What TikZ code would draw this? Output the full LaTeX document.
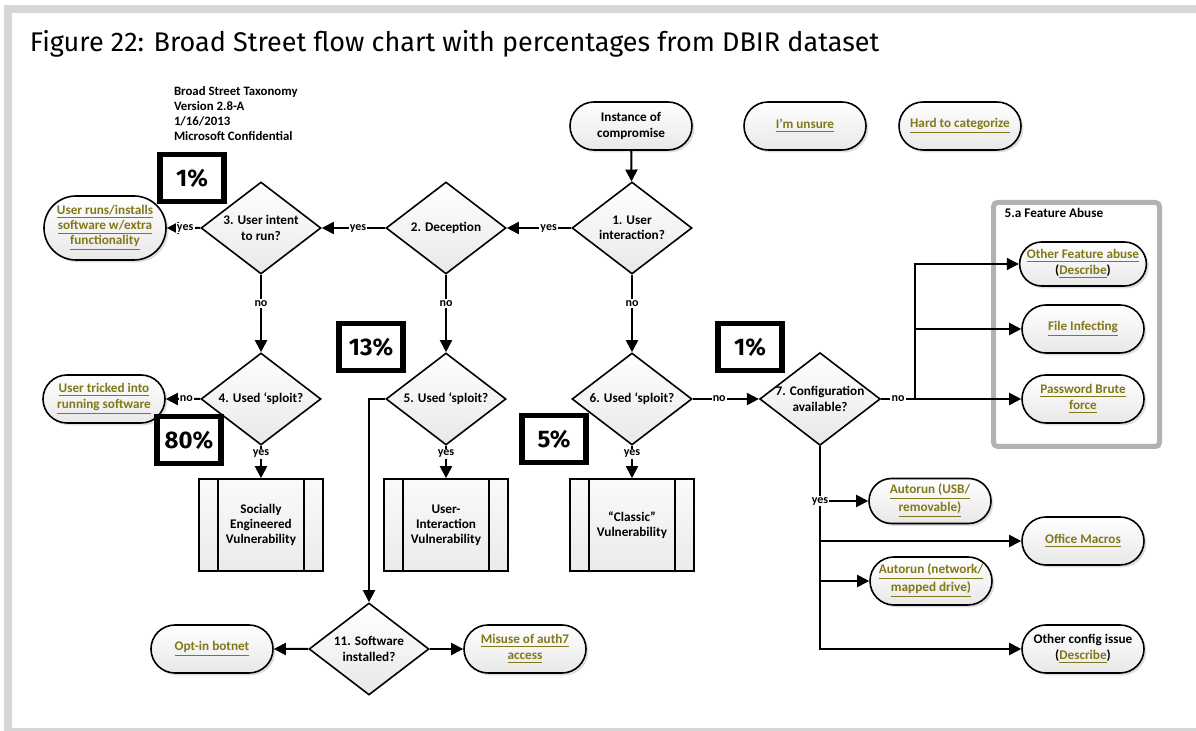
\documentclass[tikz,border=0pt]{standalone}
\usepackage{fontspec}
\setmainfont{Carlito}
\newfontfamily\titlefont{Fira Sans}
\usetikzlibrary{shapes.geometric,shapes.misc,arrows.meta,shadows}
\definecolor{linkc}{RGB}{130,120,25}
\definecolor{framegray}{RGB}{212,214,216}
\newcommand\lnk[1]{\textcolor{linkc}{\underline{#1}}}
\tikzset{
  txt/.style={font=\fontsize{6.6}{7.6}\selectfont\bfseries},
  term/.style={rounded rectangle,draw,line width=0.8pt,top color=white,bottom color=gray!18,
    minimum width=63pt,minimum height=24pt,inner sep=1pt,align=center,txt,
    drop shadow={shadow xshift=1.2pt,shadow yshift=-1.2pt,opacity=0.25}},
  dec/.style={diamond,draw,line width=0.8pt,top color=white,bottom color=gray!18,
    minimum width=60pt,minimum height=46pt,inner sep=0pt,aspect=1.3,align=center,txt},
  proc/.style={rectangle,draw,line width=0.8pt,top color=gray!4,bottom color=gray!16,
    minimum width=62pt,minimum height=46pt,align=center,txt,
    path picture={\draw[line width=0.8pt]
      ([xshift=9.5pt]path picture bounding box.north west) -- ([xshift=9.5pt]path picture bounding box.south west)
      ([xshift=-9.5pt]path picture bounding box.north east) -- ([xshift=-9.5pt]path picture bounding box.south east);}},
  pct/.style={rectangle,draw,line width=2.8pt,fill=white,minimum width=32pt,minimum height=23.5pt,
    font=\titlefont\fontsize{12}{14}\selectfont\bfseries,
    drop shadow={shadow xshift=1.5pt,shadow yshift=-1.5pt,opacity=0.3}},
  lbl/.style={fill=white,inner sep=0.6pt,font=\fontsize{6}{6}\selectfont\bfseries},
  group/.style={draw=gray!60,line width=2.5pt,rounded corners=2pt,minimum width=83pt,minimum height=122pt}
}
\begin{document}
\begin{tikzpicture}[x=0.5pt,y=-0.5pt,>={Triangle[length=6pt,width=6pt]},line width=1pt]
  \useasboundingbox (0,0) rectangle (1196,731);
  % frame
  \fill[framegray] (4,5) rectangle (1196,731);
  \fill[white] (12,13) rectangle (1196,728);
  \node[anchor=base west,inner sep=0,font=\titlefont\fontsize{13.5}{15}\selectfont] (title) at (29,52)
    {Figure 22: Broad Street flow chart with percentages from DBIR dataset};
  \node[anchor=north west,inner sep=0,align=left,font=\fontsize{6.4}{7.5}\selectfont\bfseries] (hdr) at (173,86)
    {Broad Street Taxonomy\\Version 2.8-A\\1/16/2013\\Microsoft Confidential};

  % feature abuse group
  \node[group] (fab) at (1076.5,324.5) {};
  \node[anchor=west,txt] (fabt) at (997,213) {5.a Feature Abuse};

  % nodes
  \node[term] (inst) at (631,126) {Instance of\\compromise};
  \node[term] (uns) at (805,126) {\lnk{I’m unsure}};
  \node[term] (hard) at (960,126) {\lnk{Hard to categorize}};
  \node[dec] (d1) at (632,228) {1. User\\interaction?};
  \node[dec] (d2) at (446,228) {2. Deception};
  \node[dec] (d3) at (261,228) {3. User intent\\to run?};
  \node[term,minimum height=32pt] (runs) at (105,228) {\lnk{User runs/installs}\\\lnk{software w/extra}\\\lnk{functionality}};
  \node[dec] (d4) at (261,399) {4. Used ‘sploit?};
  \node[term] (trick) at (104,399) {\lnk{User tricked into}\\\lnk{running software}};
  \node[dec] (d5) at (446,399) {5. Used ‘sploit?};
  \node[dec] (d6) at (632,399) {6. Used ‘sploit?};
  \node[dec] (d7) at (820,399) {7. Configuration\\available?};
  \node[proc] (se) at (261,525) {Socially\\Engineered\\Vulnerability};
  \node[proc] (ui) at (446,525) {User-\\Interaction\\Vulnerability};
  \node[proc] (cl) at (632,525) {“Classic”\\Vulnerability};
  \node[dec] (d11) at (369,649) {11. Software\\installed?};
  \node[term] (bot) at (212,649) {\lnk{Opt-in botnet}};
  \node[term] (mis) at (525,649) {\lnk{Misuse of auth7}\\\lnk{access}};
  \node[term,minimum height=22pt] (ofa) at (1083,264) {\lnk{Other Feature abuse}\\(\lnk{Describe})};
  \node[term] (fi) at (1083,329) {\lnk{File Infecting}};
  \node[term] (pbf) at (1083,399) {\lnk{Password Brute}\\\lnk{force}};
  \node[term,minimum height=22.5pt] (ausb) at (930,501) {\lnk{Autorun (USB/}\\\lnk{removable)}};
  \node[term] (om) at (1083,541) {\lnk{Office Macros}};
  \node[term] (anet) at (931,581) {\lnk{Autorun (network/}\\\lnk{mapped drive)}};
  \node[term] (oci) at (1083,649) {Other config issue\\(\lnk{Describe})};

  % connectors
  \draw[->] (inst) -- (d1);
  \draw[->] (d1) -- node[lbl,pos=0.35]{yes} (d2);
  \draw[->] (d2) -- node[lbl,pos=0.43]{yes} (d3);
  \draw[->] (d3) -- node[lbl,pos=0.45]{yes} (runs);
  \draw[->] (d3) -- node[lbl,pos=0.37]{no} (d4);
  \draw[->] (d2) -- node[lbl,pos=0.37]{no} (d5);
  \draw[->] (d1) -- node[lbl,pos=0.37]{no} (d6);
  \draw[->] (d4) -- node[lbl,pos=0.4]{no} (trick);
  \draw[->] (d4) -- node[lbl,pos=0.25]{yes} (se);
  \draw[->] (d5) -- node[lbl,pos=0.25]{yes} (ui);
  \draw[->] (d6) -- node[lbl,pos=0.25]{yes} (cl);
  \draw[->] (d6) -- node[lbl,pos=0.4]{no} (d7);
  \draw[->] (d5.west) -| (d11.north);
  \draw[->] (d11) -- (bot);
  \draw[->] (d11) -- (mis);
  \coordinate (nb) at (915,399);
  \draw (d7.east) -- node[lbl]{no} (nb);
  \draw[->] (nb) |- (ofa.west);
  \draw[->] (nb |- fi.west) -- (fi.west);
  \draw[->] (nb) -- (pbf.west);
  \draw[->] (d7.south) |- (oci.west);
  \draw[->] (d7.south |- om.west) -- (om.west);
  \draw[->] (d7.south |- anet.west) -- (anet.west);
  \draw[->] (d7.south |- ausb.west) -- node[lbl,pos=0]{yes} (ausb.west);

  % percentages
  \node[pct] (p3) at (192,178) {1\%};
  \node[pct] (p4) at (189,440) {80\%};
  \node[pct] (p5) at (371,347) {13\%};
  \node[pct] (p6) at (554,439) {5\%};
  \node[pct] (p7) at (750,347) {1\%};
\end{tikzpicture}
\end{document}
